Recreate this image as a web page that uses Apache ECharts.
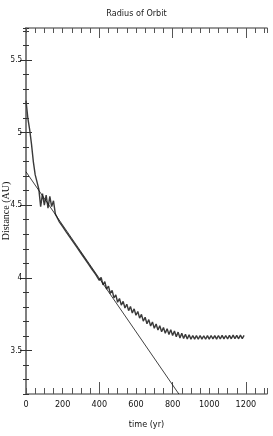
<!DOCTYPE html>
<html>
<head>
<meta charset="utf-8">
<script src="https://cdn.jsdelivr.net/npm/echarts@6/dist/echarts.min.js"></script>
<style>
html,body{margin:0;padding:0;background:#fff;}
#chart{width:273px;height:436px;}
</style>
</head>
<body>
<div id="chart"></div>
<script>
// Orbit radius sampled every 10 yr, starting at t = 0
const timeStep = 10;
const radius = [
  5.22, 5.10, 5.02, 4.92, 4.80, 4.71, 4.66, 4.61, 4.49, 4.58,
  4.50, 4.57, 4.48, 4.56, 4.49, 4.53, 4.44, 4.45, 4.389, 4.394,
  4.352, 4.358, 4.315, 4.321, 4.279, 4.284, 4.242, 4.248, 4.206, 4.211,
  4.169, 4.175, 4.133, 4.138, 4.096, 4.102, 4.059, 4.065, 4.023, 4.028,
  3.982, 4.003, 3.952, 3.973, 3.922, 3.943, 3.892, 3.913, 3.862, 3.883,
  3.832, 3.858, 3.812, 3.838, 3.792, 3.818, 3.774, 3.802, 3.758, 3.786,
  3.742, 3.768, 3.722, 3.748, 3.702, 3.728, 3.684, 3.712, 3.668, 3.696,
  3.652, 3.682, 3.640, 3.670, 3.628, 3.658, 3.618, 3.650, 3.610, 3.642,
  3.602, 3.634, 3.594, 3.626, 3.586, 3.618, 3.582, 3.612, 3.578, 3.608,
  3.577, 3.603, 3.578, 3.602, 3.577, 3.603, 3.578, 3.601, 3.577, 3.602,
  3.578, 3.603, 3.579, 3.602, 3.578, 3.603, 3.579, 3.604, 3.580, 3.603,
  3.579, 3.604, 3.580, 3.605, 3.581, 3.604, 3.580, 3.605, 3.581, 3.603
];
// Straight-line fit (end points)
const fitTimes = [0, 834];
const fitValues = [4.73, 3.2];
// Axis tick labels
const xLabels = [0, 200, 400, 600, 800, 1000, 1200];
const xLongTicks = [400, 800, 1200];
const yLabels = [3.5, 4, 4.5, 5, 5.5];

const FONT = "'DejaVu Sans Condensed','Liberation Sans Narrow','DejaVu Sans',sans-serif";
const X_MIN = 0, X_MAX = 1315, Y_MIN = 3.2, Y_MAX = 5.72;
const frame = {show: true, lineStyle: {color: '#777', width: 1.5}};

function xAx(opts) {
  return Object.assign({
    type: 'value', min: X_MIN, max: X_MAX, position: 'bottom',
    axisLine: {show: false}, splitLine: {show: false},
    axisLabel: {show: false}, axisTick: {show: false}
  }, opts);
}
function yAx(opts) {
  return Object.assign({
    type: 'value', min: Y_MIN, max: Y_MAX, position: 'left',
    axisLine: {show: false}, splitLine: {show: false},
    axisLabel: {show: false}, axisTick: {show: false}
  }, opts);
}

const chart = echarts.init(document.getElementById('chart'), null, {renderer: 'canvas'});
chart.setOption({
  animation: false,
  backgroundColor: '#fff',
  title: {
    text: 'Radius of Orbit', left: 'center', top: 4,
    textStyle: {fontFamily: FONT, fontSize: 9, fontWeight: 'normal', color: '#222'}
  },
  grid: {left: 26, right: 6, top: 28, bottom: 42, containLabel: false, outerBoundsMode: 'none'},
  xAxis: [
    xAx({
      axisLine: frame, interval: 50,
      axisTick: {show: true, inside: true, length: 6, lineStyle: {color: '#555'}},
      axisLabel: {show: true, customValues: xLabels, margin: 6, fontFamily: FONT, fontSize: 9, color: '#111',
        formatter: v => String(v)},
      name: 'time (yr)', nameLocation: 'middle', nameGap: 26, nameMoveOverlap: false,
      nameTextStyle: {fontFamily: FONT, fontSize: 9, color: '#111'}
    }),
    xAx({axisTick: {show: true, inside: true, length: 12, customValues: xLongTicks, lineStyle: {color: '#555'}}}),
    xAx({position: 'top', axisLine: frame, interval: 50,
      axisTick: {show: true, inside: true, length: 5, lineStyle: {color: '#555'}}}),
    xAx({position: 'top', axisTick: {show: true, inside: true, length: 10, customValues: xLongTicks, lineStyle: {color: '#555'}}})
  ],
  yAxis: [
    yAx({
      axisLine: frame, interval: 0.1,
      axisTick: {show: true, inside: true, length: 3, lineStyle: {color: '#333'}},
      axisLabel: {show: true, customValues: yLabels, margin: 4, fontFamily: FONT, fontSize: 8, color: '#111',
        formatter: v => String(v)},
      name: 'Distance (AU)', nameLocation: 'middle', nameGap: 15, nameRotate: 90, nameMoveOverlap: false,
      nameTextStyle: {fontFamily: "'Liberation Serif','DejaVu Serif',serif", fontSize: 10, color: '#111'}
    }),
    yAx({axisTick: {show: true, inside: true, length: 6, customValues: yLabels, lineStyle: {color: '#333'}}}),
    yAx({position: 'right', axisLine: frame, interval: 0.1,
      axisTick: {show: true, inside: true, length: 3, lineStyle: {color: '#333'}}}),
    yAx({position: 'right', axisTick: {show: true, inside: true, length: 6, customValues: yLabels, lineStyle: {color: '#333'}}})
  ],
  series: [
    {
      type: 'line', name: 'radius',
      data: radius.map((v, i) => [i * timeStep, v]),
      showSymbol: false, symbol: 'none',
      lineStyle: {color: '#3a3a3a', width: 1.4},
      clip: true
    },
    {
      type: 'line', name: 'fit',
      data: fitTimes.map((t, i) => [t, fitValues[i]]),
      showSymbol: false, symbol: 'none',
      lineStyle: {color: '#111', width: 0.8},
      clip: true
    }
  ]
});
</script>
</body>
</html>
